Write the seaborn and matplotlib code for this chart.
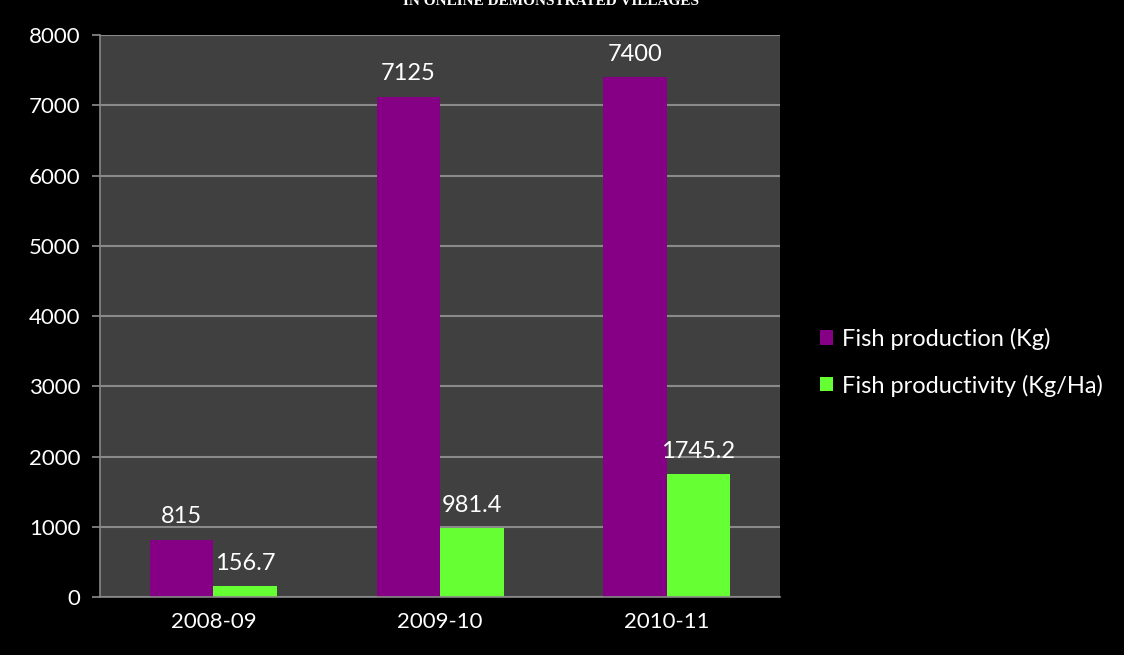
import matplotlib
matplotlib.use("Agg")
import matplotlib.pyplot as plt
import seaborn as sns
import pandas as pd

years = ["2008-09", "2009-10", "2010-11"]
production = [815, 7125, 7400]
productivity = [156.7, 981.4, 1745.2]
series_names = ["Fish production (Kg)", "Fish productivity (Kg/Ha)"]
prod_labels = ["815", "7125", "7400"]
prody_labels = ["156.7", "981.4", "1745.2"]
yticks = [0, 1000, 2000, 3000, 4000, 5000, 6000, 7000, 8000]
title = "IN ONLINE DEMONSTRATED VILLAGES"

df = pd.DataFrame({
    "year": years * 2,
    "value": production + productivity,
    "series": [series_names[0]] * 3 + [series_names[1]] * 3,
})

sns.set_theme(style="dark")
plt.rcParams["font.family"] = ["Lato", "DejaVu Sans"]

fig = plt.figure(figsize=(11.24, 6.55), dpi=100, facecolor="black")
ax = fig.add_axes([0.089, 0.0885, 0.605, 0.858])
ax.set_facecolor("#404040")

palette = {series_names[0]: "#850085", series_names[1]: "#66FF33"}
sns.barplot(data=df, x="year", y="value", hue="series", palette=palette,
            width=0.56, ax=ax, saturation=1, edgecolor="none")

for cont, labs in zip(ax.containers, [prod_labels, prody_labels]):
    ax.bar_label(cont, labels=labs, padding=9, color="white", fontsize=17)

ax.set_ylim(0, 8000)
ax.set_xlim(-0.5, 2.5)
ax.set_yticks(yticks)
ax.set_yticklabels([str(t) for t in yticks], color="white", fontsize=16)
ax.set_xticks(range(len(years)))
ax.set_xticklabels(years, color="white", fontsize=16)
ax.set_xticks([-0.5, 0.5, 1.5, 2.5], minor=True)
ax.tick_params(axis="x", which="major", length=0, pad=11)
ax.tick_params(axis="x", which="minor", length=7, color="#888888", direction="out")
ax.tick_params(axis="y", length=6, color="#888888", direction="out", left=True, pad=8)
ax.set_xlabel("")
ax.set_ylabel("")
ax.grid(axis="y", color="#8a8a8a", linewidth=1.5)
ax.grid(axis="x", visible=False)
ax.set_axisbelow(True)
for s in ["top", "right"]:
    ax.spines[s].set_visible(False)
for s in ["left", "bottom"]:
    ax.spines[s].set_visible(True)
    ax.spines[s].set_color("#888888")
    ax.spines[s].set_linewidth(1.2)

leg = ax.legend(loc="center left", bbox_to_anchor=(0.7105, 0.447),
                bbox_transform=fig.transFigure, frameon=False,
                fontsize=17, labelcolor="white", handlelength=0.55, handleheight=0.55,
                handletextpad=0.4, labelspacing=1.05)

fig.text(0.49, 0.997, title, ha="center", va="center", color="white",
         fontsize=11, fontweight="bold", family=["Liberation Serif", "DejaVu Serif"])

fig.savefig("out.png", dpi=100, facecolor="black")
